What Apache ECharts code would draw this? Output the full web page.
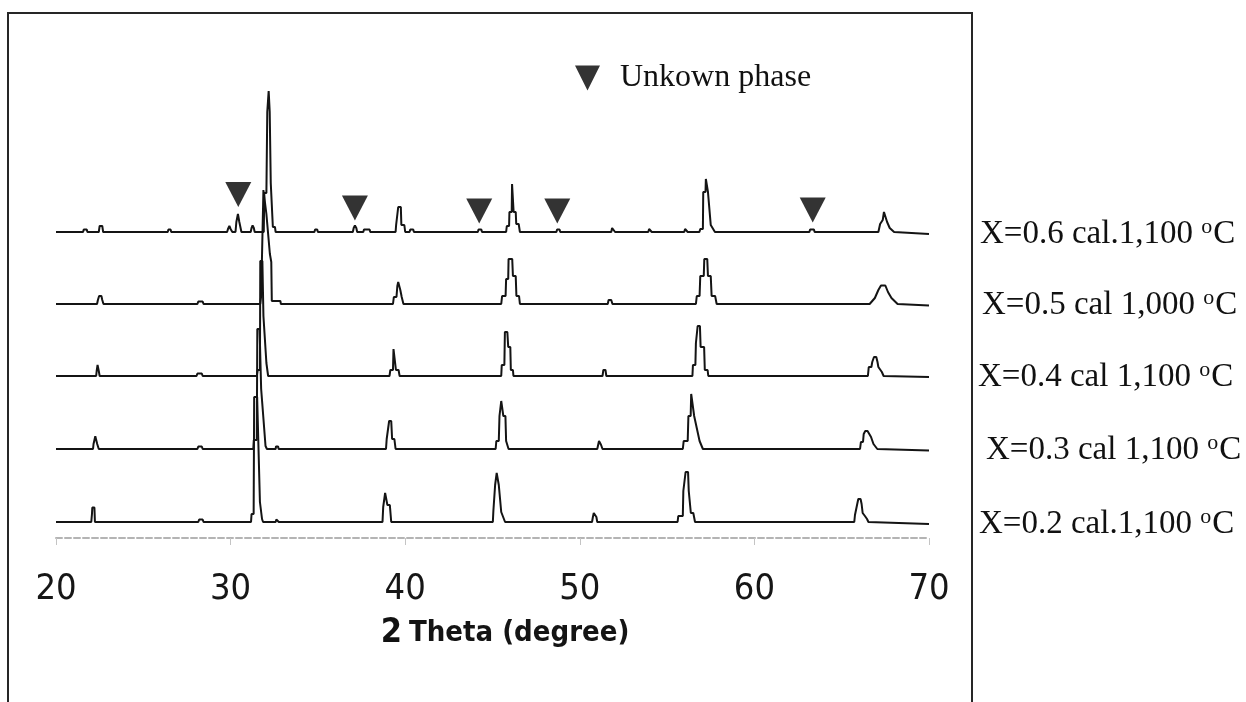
<!DOCTYPE html>
<html>
<head>
<meta charset="utf-8">
<script src="https://cdn.jsdelivr.net/npm/echarts@6/dist/echarts.min.js"></script>
<style>
  html, body { margin: 0; padding: 0; background: #ffffff; }
  #chart { width: 1246px; height: 702px; }
</style>
</head>
<body>
<div id="chart"></div>
<script>
// XRD patterns, 2-theta (degree) vs. relative intensity of each scan above its own baseline.
const thetaTicks = [20, 30, 40, 50, 60, 70];

const sampleLabels = [
  'X=0.2 cal.1,100 ',
  'X=0.3 cal 1,100 ',
  'X=0.4 cal 1,100 ',
  'X=0.5 cal 1,000 ',
  'X=0.6 cal.1,100 '
];

// vertical stacking offset of each scan
const offsets = [16, 89, 162, 234, 306];

const scanX02 = [
  [20, 0],
  [22.02, 0], [22.06, 8], [22.08, 14.4], [22.2, 14.4], [22.23, 0],
  [28.15, 0], [28.2, 2.5], [28.4, 2.5], [28.45, 0],
  [31.17, 0], [31.2, 8], [31.32, 8], [31.35, 125], [31.52, 125], [31.68, 20], [31.8, 3], [31.86, 0],
  [32.58, 0], [32.62, 2.5], [32.72, 2.5], [32.76, 0],
  [38.7, 0], [38.74, 15], [38.83, 15], [38.85, 29], [38.95, 29], [38.98, 17], [39.12, 17], [39.2, 0],
  [45.02, 0], [45.05, 11], [45.12, 11], [45.15, 37], [45.22, 37], [45.24, 49], [45.33, 49], [45.36, 37], [45.46, 37], [45.5, 10], [45.6, 10], [45.72, 0],
  [50.7, 0], [50.75, 5], [50.8, 9], [50.9, 9], [50.95, 5], [51.0, 0],
  [55.6, 0], [55.64, 6], [55.9, 6], [55.93, 31], [56.03, 31], [56.06, 50], [56.2, 50], [56.24, 31], [56.32, 31], [56.36, 9], [56.5, 9], [56.6, 0],
  [65.72, 0], [65.76, 7], [65.86, 7], [65.89, 18], [65.95, 23], [66.08, 23], [66.14, 18], [66.2, 9], [66.33, 6], [66.45, 3], [66.53, 0],
  [70, -2]
];

const scanX03 = [
  [20, 0],
  [22.12, 0], [22.15, 5], [22.22, 5], [22.25, 12.7], [22.32, 12.7], [22.36, 5], [22.42, 5], [22.45, 0],
  [28.1, 0], [28.15, 2.5], [28.35, 2.5], [28.4, 0],
  [31.3, 0], [31.33, 9], [31.5, 9], [31.53, 120], [31.66, 120], [31.75, 60], [31.86, 35], [31.92, 35], [32.0, 3], [32.08, 0],
  [32.58, 0], [32.6, 2.5], [32.72, 2.5], [32.75, 0],
  [38.9, 0], [38.94, 10], [39.05, 10], [39.08, 28], [39.2, 28], [39.25, 10], [39.38, 10], [39.45, 0],
  [45.18, 0], [45.22, 8], [45.36, 8], [45.4, 33], [45.48, 33], [45.5, 48], [45.58, 48], [45.62, 33], [45.74, 33], [45.78, 8], [45.88, 8], [45.92, 0],
  [51.0, 0], [51.05, 4], [51.1, 8], [51.18, 8], [51.22, 4], [51.3, 0],
  [55.9, 0], [55.95, 8], [56.18, 8], [56.22, 33], [56.35, 33], [56.38, 55], [56.48, 55], [56.55, 33], [56.62, 33], [56.86, 8], [56.95, 8], [57.05, 0],
  [66.05, 0], [66.1, 7], [66.22, 7], [66.26, 15], [66.35, 18], [66.48, 18], [66.58, 15], [66.68, 12], [66.82, 5], [66.9, 5], [67.04, 0],
  [70, -1.5]
];

const scanX04 = [
  [20, 0],
  [22.3, 0], [22.33, 5], [22.38, 11], [22.45, 5], [22.5, 0],
  [28.05, 0], [28.1, 2.5], [28.35, 2.5], [28.4, 0],
  [31.5, 0], [31.55, 6], [31.68, 6], [31.7, 115], [31.82, 115], [31.88, 60], [32.05, 13], [32.12, 13], [32.15, 0],
  [39.1, 0], [39.15, 6], [39.3, 6], [39.33, 27], [39.43, 27], [39.47, 6], [39.62, 6], [39.68, 0],
  [45.5, 0], [45.53, 11], [45.68, 11], [45.71, 44], [45.85, 44], [45.9, 29], [46.02, 29], [46.05, 6], [46.17, 6], [46.2, 0],
  [51.3, 0], [51.35, 6], [51.47, 6], [51.52, 0],
  [56.45, 0], [56.48, 11], [56.62, 11], [56.65, 33], [56.72, 33], [56.75, 50], [56.88, 50], [56.92, 29], [57.12, 29], [57.16, 6], [57.32, 6], [57.36, 0],
  [66.5, 0], [66.55, 9], [66.7, 9], [66.75, 14], [66.85, 19], [66.98, 19], [67.05, 14], [67.1, 9], [67.3, 4], [67.4, 0],
  [70, -1]
];

const scanX05 = [
  [20, 0],
  [22.35, 0], [22.4, 4], [22.47, 8], [22.6, 8], [22.65, 4], [22.72, 0],
  [28.1, 0], [28.15, 2.5], [28.4, 2.5], [28.45, 0],
  [31.7, 0], [31.75, 8], [31.86, 8], [31.88, 114], [31.98, 114], [32.05, 90], [32.25, 50], [32.33, 42], [32.36, 3], [32.85, 3], [32.88, 0],
  [39.3, 0], [39.35, 7], [39.5, 7], [39.55, 18], [39.6, 22], [39.68, 22], [39.72, 14], [39.8, 7], [39.9, 0],
  [45.5, 0], [45.55, 8], [45.75, 8], [45.78, 25], [45.9, 25], [45.92, 45], [46.13, 45], [46.17, 28], [46.33, 28], [46.37, 8], [46.52, 8], [46.57, 0],
  [51.6, 0], [51.65, 4], [51.8, 4], [51.87, 0],
  [56.65, 0], [56.7, 8], [56.86, 8], [56.9, 28], [57.1, 28], [57.13, 45], [57.3, 45], [57.34, 28], [57.5, 28], [57.55, 8], [57.75, 8], [57.84, 0],
  [66.6, 0], [66.9, 6], [67.1, 14], [67.25, 18.5], [67.5, 18.5], [67.65, 12], [67.85, 6], [68.2, 0],
  [70, -1.5]
];

const scanX06 = [
  [20, 0],
  [21.55, 0], [21.59, 2.5], [21.76, 2.5], [21.8, 0],
  [22.45, 0], [22.5, 6], [22.65, 6], [22.7, 0],
  [26.4, 0], [26.44, 2.5], [26.56, 2.5], [26.6, 0],
  [29.8, 0], [29.85, 3], [29.93, 6], [30.0, 3], [30.1, 0],
  [30.28, 0], [30.33, 10], [30.42, 18], [30.5, 10], [30.58, 10], [30.62, 0],
  [31.15, 0], [31.2, 4], [31.26, 6.5], [31.33, 4], [31.38, 0],
  [31.9, 0], [31.93, 39], [32.05, 39], [32.1, 120], [32.18, 141], [32.24, 120], [32.3, 49], [32.4, 49], [32.42, 5], [32.54, 5], [32.58, 0],
  [34.8, 0], [34.84, 2.5], [34.96, 2.5], [35.0, 0],
  [37.0, 0], [37.05, 4], [37.12, 6.5], [37.2, 4], [37.25, 0],
  [37.6, 0], [37.64, 2.5], [37.96, 2.5], [38.0, 0],
  [39.45, 0], [39.48, 7], [39.58, 7], [39.6, 25], [39.75, 25], [39.78, 7], [39.95, 7], [40.0, 0],
  [40.25, 0], [40.29, 2.5], [40.46, 2.5], [40.5, 0],
  [44.16, 0], [44.2, 2.5], [44.36, 2.5], [44.4, 0],
  [45.78, 0], [45.82, 6], [45.95, 6], [45.97, 20], [46.1, 20], [46.12, 48], [46.19, 48], [46.21, 20], [46.33, 20], [46.36, 8], [46.5, 8], [46.57, 0],
  [48.66, 0], [48.7, 2.5], [48.84, 2.5], [48.88, 0],
  [51.8, 0], [51.85, 4], [51.95, 4], [52.02, 0],
  [53.92, 0], [53.97, 3], [54.07, 3], [54.12, 0],
  [55.98, 0], [56.03, 3], [56.13, 3], [56.18, 0],
  [56.85, 0], [56.9, 3], [57.05, 3], [57.07, 40], [57.2, 40], [57.22, 53], [57.32, 53], [57.34, 40], [57.45, 40], [57.5, 7], [57.6, 7], [57.74, 0],
  [63.15, 0], [63.19, 2.5], [63.41, 2.5], [63.45, 0],
  [67.1, 0], [67.2, 8], [67.35, 12], [67.42, 20], [67.5, 20], [67.6, 10], [67.75, 4], [68.0, 0],
  [70, -2]
];

const scans = [scanX02, scanX03, scanX04, scanX05, scanX06];

// unknown-phase reflections in the X=0.6 scan: [2-theta, marker height above that scan's baseline]
const unknownPhase = [
  [30.44, 37.5], [37.12, 24], [44.24, 21], [48.71, 21], [63.34, 22]
];

// horizontal gap from the end of each scan to its caption
const labelGaps = [50, 57, 49, 53, 51];

const serifFont = "'Liberation Serif', 'DejaVu Serif', 'Times New Roman', serif";
const narrowFont = "'Liberation Sans Narrow', 'DejaVu Sans Condensed', 'Open Sans', sans-serif";

const chart = echarts.init(document.getElementById('chart'), null, { renderer: 'canvas' });

const scanSeries = scans.map((scan, i) => ({
  type: 'line',
  name: sampleLabels[i].trim(),
  data: scan.map(p => [p[0], p[1] + offsets[i]]),
  symbol: 'none',
  showSymbol: false,
  silent: true,
  animation: false,
  z: 2,
  lineStyle: { color: '#141414', width: 2 },
  endLabel: {
    show: true,
    distance: labelGaps[i],
    formatter: () => '{t|' + sampleLabels[i] + '}{o|o}{t|C}',
    rich: {
      t: { fontFamily: serifFont, fontSize: 33, color: '#111', lineHeight: 36 },
      o: { fontFamily: serifFont, fontSize: 22, color: '#111', lineHeight: 36, verticalAlign: 'top', padding: [0, 1, 0, 0] }
    }
  }
}));

const option = {
  backgroundColor: '#ffffff',
  animation: false,
  grid: { left: 56, right: 317, top: 38, bottom: 164, containLabel: false },
  legend: {
    data: ['Unkown phase'],
    left: 570,
    top: 57,
    itemWidth: 55,
    itemHeight: 25,
    icon: 'path://M0,0 L10,0 L5,10 Z',
    selectedMode: false,
    textStyle: { fontFamily: serifFont, fontSize: 32, color: '#111' }
  },
  xAxis: {
    type: 'value',
    min: 20,
    max: 70,
    interval: 10,
    name: '{b|2}Theta (degree)',
    nameLocation: 'middle',
    nameGap: 78,
    nameTextStyle: {
      fontFamily: narrowFont, fontSize: 29, fontWeight: 'bold', color: '#141414',
      padding: [0, 0, 0, 25],
      rich: { b: { fontFamily: narrowFont, fontSize: 34, fontWeight: 'bold', color: '#111', padding: [0, 7, 0, 0] } }
    },
    axisLine: { show: true, onZero: false, lineStyle: { color: '#b4b4b4', width: 2, type: [6, 3] } },
    axisTick: { show: true, length: 7, lineStyle: { color: '#c4c4c4', width: 1 } },
    axisLabel: {
      margin: 34,
      fontFamily: narrowFont,
      fontSize: 36,
      color: '#161616',
      formatter: v => (thetaTicks.includes(v) ? String(v) : '')
    },
    splitLine: { show: false }
  },
  yAxis: {
    type: 'value',
    min: 0,
    max: 500,
    show: false
  },
  series: [
    ...scanSeries,
    {
      type: 'scatter',
      name: 'Unkown phase',
      data: unknownPhase.map(p => [p[0], p[1] + offsets[4]]),
      symbol: 'triangle',
      symbolRotate: 180,
      symbolSize: [26, 25],
      silent: true,
      z: 3,
      itemStyle: { color: '#000000' }
    }
  ],
  graphic: [
    {
      type: 'rect',
      shape: { x: 8, y: 13, width: 964, height: 720 },
      style: { fill: 'none', stroke: '#262626', lineWidth: 2 },
      z: 10,
      silent: true
    }
  ]
};

chart.setOption(option);
</script>
</body>
</html>
